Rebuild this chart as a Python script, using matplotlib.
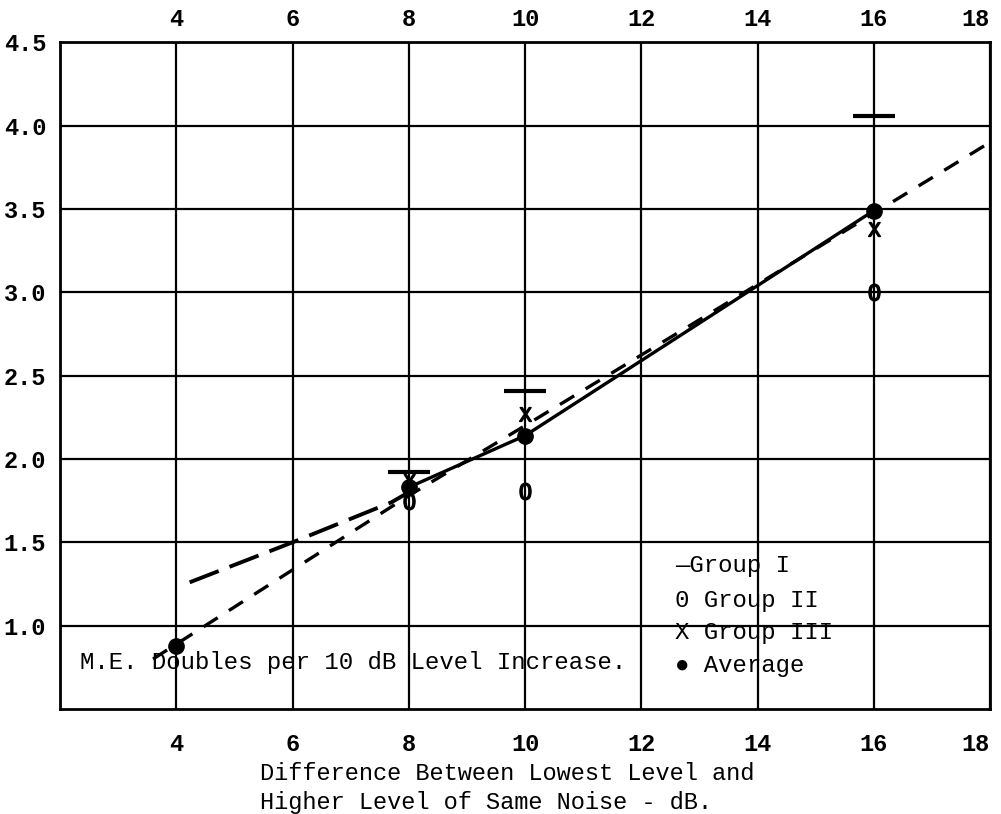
import numpy as np
import matplotlib.pyplot as plt

plt.rcParams['font.family'] = ['Liberation Mono', 'DejaVu Sans Mono']

# data
x_pts = [8, 10, 16]
group1 = [1.92, 2.41, 4.06]
group2 = [1.75, 1.81, 3.00]
group3 = [1.87, 2.27, 3.38]
avg_x = [4, 8, 10, 16]
avg_y = [0.88, 1.83, 2.14, 3.49]

# dashed "doubles per 10 dB" line and second dashed segment
dash_x = [3.6, 8.0, 10.0, 13.4, 18.0]
dash_y = [0.80, 1.78, 2.20, 2.92, 3.90]
dash2_x = [4.23, 6.0, 7.7, 8.0]
dash2_y = [1.26, 1.50, 1.74, 1.80]
# solid line through averages
solid_x = [8, 10, 16]
solid_y = [1.83, 2.14, 3.49]

xt = [4, 6, 8, 10, 12, 14, 16, 18]
yt = [1.0, 1.5, 2.0, 2.5, 3.0, 3.5, 4.0, 4.5]

fig = plt.figure(figsize=(10.01, 8.14), dpi=100)
ax = fig.add_axes([0.06, 0.129, 0.929, 0.819])
ax.set_xlim(2, 18)
ax.set_ylim(0.5, 4.5)

ax.set_xticks(xt)
ax.set_yticks(yt)
ax.set_yticklabels(["%.1f" % v for v in yt])
ax.tick_params(length=0, labelsize=17)
ax.tick_params(axis='x', pad=17)
ax.tick_params(axis='y', pad=10)

top = ax.secondary_xaxis('top')
top.set_xticks(xt)
top.tick_params(length=0, labelsize=17, pad=8)
top.spines['top'].set_visible(False)

fig.canvas.draw()
for lab in (ax.get_xticklabels() + ax.get_yticklabels()
            + top.get_xticklabels()):
    lab.set_fontweight('bold')
ax.get_xticklabels()[-1].set_horizontalalignment('right')
top.get_xticklabels()[-1].set_horizontalalignment('right')

ax.grid(color='black', linewidth=1.6)
for s in ax.spines.values():
    s.set_linewidth(2)

ax.plot(dash_x, dash_y, color='black', linewidth=2.4, dashes=(5, 4))
ax.plot(dash2_x, dash2_y, color='black', linewidth=2.8, dashes=(8, 3))
ax.plot(solid_x, solid_y, color='black', linewidth=2.4)

ax.plot(x_pts, group1, linestyle='none', marker='_', markersize=30,
        markeredgewidth=3, color='black')
ax.plot(x_pts, group2, linestyle='none', marker=r'$\mathrm{0}$',
        markersize=12, color='black')
ax.plot(x_pts, group3, linestyle='none', marker=r'$\mathrm{X}$',
        markersize=10, color='black')
ax.plot(avg_x, avg_y, linestyle='none', marker='o', markersize=11,
        color='black')

ax.text(2.35, 0.78, "M.E. Doubles per 10 dB Level Increase.", fontsize=17.3,
        va='center', ha='left')
ax.text(12.58, 1.36, "—Group I", fontsize=17.3, va='center')
ax.text(12.58, 1.15, "0 Group II", fontsize=17.3, va='center')
ax.text(12.58, 0.96, "X Group III", fontsize=17.3, va='center')
ax.text(12.58, 0.76, "● Average", fontsize=17.3, va='center')

fig.text(260 / 1001, 1 - 773 / 814, "Difference Between Lowest Level and",
         fontsize=17, ha='left', va='center')
fig.text(260 / 1001, 1 - 802 / 814, "Higher Level of Same Noise - dB.",
         fontsize=17, ha='left', va='center')

plt.savefig("out.png")
